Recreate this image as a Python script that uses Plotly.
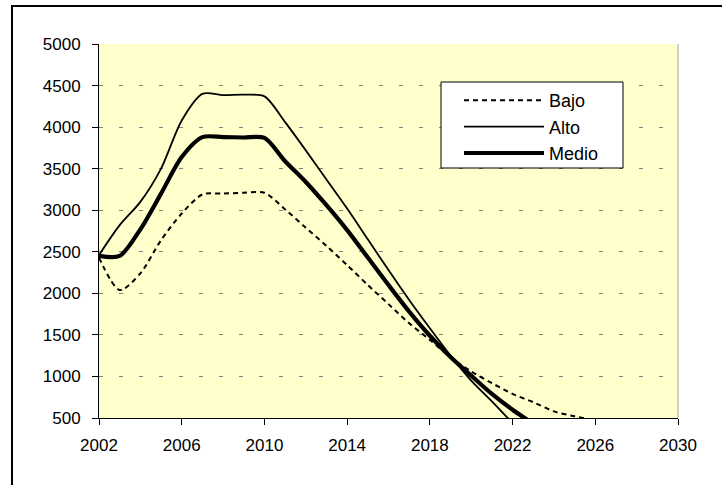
import plotly.graph_objects as go

# Projection years and the three scenarios
years = list(range(2002, 2027))

bajo = [2430, 2040, 2240, 2640, 2960, 3190, 3200, 3210, 3210, 3010,
        2790, 2570, 2340, 2100, 1870, 1640, 1440, 1230, 1060, 920,
        790, 690, 580, 520, 470]

alto = [2460, 2820, 3100, 3500, 4080, 4400, 4385, 4390, 4370, 4060,
        3720, 3370, 3020, 2650, 2280, 1920, 1580, 1250, 950, 700,
        440, 200, 0, None, None]

medio = [2450, 2450, 2770, 3200, 3640, 3880, 3880, 3875, 3870, 3590,
         3340, 3060, 2760, 2430, 2100, 1780, 1490, 1235, 1010, 790,
         600, 430, 250, None, None]

x_ticks = [2002, 2006, 2010, 2014, 2018, 2022, 2026, 2030]
y_ticks = [500, 1000, 1500, 2000, 2500, 3000, 3500, 4000, 4500, 5000]

FONT = "Arial, Liberation Sans, sans-serif"

fig = go.Figure()
fig.add_trace(go.Scatter(x=years, y=bajo, name="Bajo", mode="lines",
                         line=dict(color="black", width=2, dash="5px,4px",
                                   shape="spline", smoothing=0.8)))
fig.add_trace(go.Scatter(x=years, y=alto, name="Alto", mode="lines",
                         line=dict(color="black", width=1.8,
                                   shape="spline", smoothing=0.8)))
fig.add_trace(go.Scatter(x=years, y=medio, name="Medio", mode="lines",
                         line=dict(color="black", width=4.2,
                                   shape="spline", smoothing=0.8)))

# plotting-area edges in pixels
L, R, T, B = 99, 678, 44, 418
W, H = R - L, B - T
def px_x(p):
    return (p - L) / W
def px_y(p):
    return (B - p) / H

# outer chart frame
fig.add_shape(type="rect", xref="paper", yref="paper",
              x0=px_x(12), x1=px_x(740), y0=px_y(500), y1=px_y(6),
              line=dict(color="black", width=2), layer="below")
# right edge of the plotting area
fig.add_shape(type="line", xref="paper", yref="paper",
              x0=1, x1=1, y0=0, y1=1,
              line=dict(color="#A0A0A0", width=1))
# legend box
fig.add_shape(type="rect", xref="paper", yref="paper",
              x0=px_x(441), x1=px_x(623), y0=px_y(168), y1=px_y(82),
              fillcolor="white", line=dict(color="black", width=1),
              layer="above")

fig.update_layout(
    width=722, height=485,
    margin=dict(l=L, r=722 - R, t=T, b=485 - B),
    paper_bgcolor="white",
    plot_bgcolor="#FFFFCC",
    font=dict(family=FONT, size=17, color="black"),
    showlegend=True,
    legend=dict(x=px_x(459), y=px_y(82), xanchor="left", yanchor="top",
                bgcolor="rgba(0,0,0,0)", borderwidth=0,
                font=dict(size=18), itemwidth=80, tracegroupgap=0),
    xaxis=dict(range=[2002, 2030], tickvals=x_ticks, showgrid=False,
               zeroline=False, showline=True, linecolor="black", linewidth=1,
               ticks="outside", ticklen=6, tickcolor="black",
               ticklabelstandoff=6),
    yaxis=dict(range=[500, 5000], tickvals=y_ticks, showgrid=True,
               gridcolor="#808080", gridwidth=1, griddash="4px,16px",
               zeroline=False, showline=True, linecolor="black", linewidth=1,
               ticks="outside", ticklen=6, tickcolor="black",
               ticklabelstandoff=8),
)

fig.write_html("out.html")
